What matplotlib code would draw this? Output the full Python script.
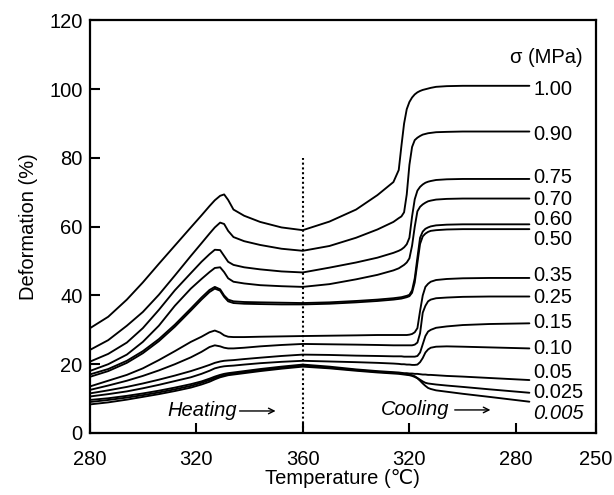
import matplotlib
matplotlib.use("Agg")
import matplotlib.pyplot as plt

plt.rcParams['font.family'] = ['Liberation Sans', 'DejaVu Sans']

# ---------------- data ----------------
stress_labels = ['1.00', '0.90', '0.75', '0.70', '0.60', '0.50', '0.35',
                 '0.25', '0.15', '0.10', '0.05', '0.025', '0.005']
label_y = [100.0, 86.7, 74.3, 68.0, 62.2, 56.4, 45.7, 39.3, 32.2, 24.6,
           17.6, 11.7, 5.7]

# heating branch temperatures (deg C)
heat_T = [280, 287, 294, 300, 306, 312, 318, 322, 325, 327, 329, 330.5,
          332, 334, 338, 344, 352, 360]
# cooling branch temperatures (deg C)
cool_T = [360, 350, 340, 332, 326, 324, 323, 322, 321, 320, 319, 318, 317,
          316, 315, 314, 313, 312, 310, 306, 300, 290, 275]

heat_100 = [30.4, 33.8, 38.8, 43.8, 49.2, 54.5, 59.8, 63.3, 66.0, 67.7, 69.0, 69.4, 67.8, 65.0, 63.2, 61.4, 59.8, 59.0]
heat_090 = [24.1, 27.0, 31.2, 35.2, 40.2, 45.8, 51.5, 55.2, 58.0, 59.8, 61.2, 60.8, 58.8, 57.0, 55.8, 54.7, 53.6, 53.0]
heat_075 = [20.7, 23.0, 26.3, 30.5, 35.8, 41.5, 46.5, 49.8, 52.0, 53.3, 53.2, 51.5, 49.8, 48.9, 48.2, 47.6, 47.0, 46.7]
heat_070 = [18.0, 20.0, 22.8, 26.5, 31.2, 37.0, 42.0, 44.8, 46.8, 48.0, 48.2, 46.8, 45.0, 44.0, 43.5, 43.0, 42.7, 42.5]
heat_060 = [17.0, 18.6, 21.0, 23.8, 27.3, 31.5, 36.2, 39.4, 41.6, 42.5, 41.8, 40.0, 38.8, 38.3, 38.1, 38.0, 37.9, 37.8]
heat_050 = [16.3, 18.0, 20.4, 23.2, 26.7, 30.9, 35.6, 38.8, 41.0, 42.0, 41.4, 39.6, 38.3, 37.8, 37.6, 37.5, 37.4, 37.4]
heat_035 = [13.5, 15.2, 16.9, 18.8, 21.2, 23.8, 26.5, 28.0, 29.3, 29.8, 29.2, 28.4, 28.0, 27.9, 27.9, 28.0, 28.1, 28.2]
heat_025 = [12.5, 13.8, 15.2, 16.6, 18.2, 20.0, 22.0, 23.6, 25.0, 25.5, 25.2, 24.8, 24.6, 24.6, 24.8, 25.2, 25.6, 25.9]
heat_015 = [11.5, 12.4, 13.4, 14.4, 15.5, 16.7, 18.0, 19.0, 19.8, 20.4, 20.8, 21.0, 21.1, 21.2, 21.5, 21.9, 22.4, 22.8]
heat_010 = [10.6, 11.3, 12.1, 13.0, 14.0, 15.1, 16.2, 17.2, 18.1, 18.8, 19.2, 19.4, 19.5, 19.6, 19.9, 20.3, 20.7, 21.0]
heat_005 = [9.6, 10.1, 10.8, 11.5, 12.3, 13.2, 14.2, 15.0, 15.8, 16.4, 16.9, 17.2, 17.4, 17.6, 18.0, 18.6, 19.3, 19.9]
heat_0025 = [9.0, 9.6, 10.3, 11.0, 11.8, 12.7, 13.7, 14.6, 15.4, 16.0, 16.5, 16.8, 17.1, 17.3, 17.7, 18.3, 19.0, 19.6]
heat_0005 = [8.3, 8.9, 9.7, 10.5, 11.3, 12.2, 13.2, 14.1, 14.9, 15.6, 16.2, 16.5, 16.8, 17.0, 17.4, 18.0, 18.7, 19.3]

cool_100 = [59.0, 61.5, 65.0, 69.2, 73.0, 76.5, 83.5, 90.0, 94.2, 96.3, 97.6, 98.5, 99.1, 99.5, 99.8, 100.0, 100.2, 100.4, 100.7, 100.9, 101.0, 101.0, 101.0]
cool_090 = [53.0, 54.4, 56.8, 59.2, 61.4, 62.5, 63.0, 64.2, 69.4, 78.0, 83.2, 85.2, 85.9, 86.4, 86.8, 87.0, 87.2, 87.3, 87.5, 87.6, 87.7, 87.7, 87.7]
cool_075 = [46.7, 48.1, 49.6, 51.0, 52.4, 53.0, 53.4, 54.0, 54.9, 56.8, 63.0, 68.0, 70.5, 71.6, 72.3, 72.8, 73.1, 73.3, 73.6, 73.8, 73.9, 73.9, 73.9]
cool_070 = [42.5, 43.3, 44.7, 46.0, 47.3, 47.9, 48.4, 48.9, 49.6, 50.8, 54.5, 60.0, 64.5, 65.8, 66.5, 67.0, 67.4, 67.6, 67.9, 68.1, 68.2, 68.2, 68.2]
cool_060 = [37.8, 38.0, 38.4, 38.8, 39.2, 39.4, 39.5, 39.7, 39.9, 40.2, 41.5, 45.0, 51.0, 56.8, 58.6, 59.4, 59.8, 60.1, 60.4, 60.6, 60.7, 60.7, 60.7]
cool_050 = [37.4, 37.6, 38.0, 38.4, 38.8, 39.0, 39.1, 39.3, 39.5, 39.8, 40.8, 43.8, 49.5, 55.0, 57.2, 58.0, 58.5, 58.8, 59.0, 59.2, 59.3, 59.3, 59.3]
cool_035 = [28.2, 28.3, 28.4, 28.5, 28.5, 28.5, 28.5, 28.5, 28.5, 28.6, 28.8, 29.3, 30.5, 35.5, 40.0, 42.5, 43.4, 44.0, 44.5, 44.8, 45.0, 45.1, 45.1]
cool_025 = [25.9, 25.8, 25.7, 25.6, 25.5, 25.5, 25.5, 25.5, 25.5, 25.5, 25.5, 25.7, 26.3, 29.0, 35.0, 37.0, 38.3, 38.8, 39.2, 39.4, 39.6, 39.7, 39.7]
cool_015 = [22.8, 22.7, 22.5, 22.4, 22.3, 22.3, 22.3, 22.2, 22.2, 22.2, 22.2, 22.2, 22.4, 23.4, 25.8, 28.2, 29.5, 30.0, 30.6, 31.0, 31.4, 31.7, 31.9]
cool_010 = [21.0, 20.8, 20.6, 20.4, 20.2, 20.1, 20.0, 20.0, 19.9, 19.9, 19.8, 19.8, 19.9, 20.6, 21.8, 23.4, 24.3, 24.8, 25.1, 25.2, 25.1, 24.9, 24.6]
cool_005 = [19.9, 19.3, 18.5, 18.0, 17.7, 17.6, 17.5, 17.4, 17.4, 17.3, 17.3, 17.2, 17.2, 17.1, 17.0, 17.0, 16.9, 16.9, 16.8, 16.6, 16.4, 16.0, 15.4]
cool_0025 = [19.6, 19.0, 18.3, 17.8, 17.5, 17.4, 17.3, 17.2, 17.1, 17.0, 16.8, 16.5, 16.0, 15.5, 15.0, 14.6, 14.4, 14.3, 14.1, 13.8, 13.4, 12.7, 11.7]
cool_0005 = [19.3, 18.8, 18.1, 17.6, 17.3, 17.2, 17.1, 17.0, 16.9, 16.8, 16.6, 16.3, 15.9, 15.2, 14.4, 13.7, 13.1, 12.8, 12.4, 12.0, 11.4, 10.5, 9.1]

heat_curves = [heat_100, heat_090, heat_075, heat_070, heat_060, heat_050,
               heat_035, heat_025, heat_015, heat_010, heat_005, heat_0025,
               heat_0005]
cool_curves = [cool_100, cool_090, cool_075, cool_070, cool_060, cool_050,
               cool_035, cool_025, cool_015, cool_010, cool_005, cool_0025,
               cool_0005]

tick_pos = [280, 320, 360, 400, 440, 470]
tick_labels = ['280', '320', '360', '320', '280', '250']

# ---------------- figure ----------------
fig = plt.figure(figsize=(6.14, 4.95), dpi=100)
ax = fig.add_axes([0.1458, 0.1253, 0.8249, 0.8333])

# unfolded temperature axis: heating runs 280->360, cooling continues 360->250
heat_x = heat_T
cool_x = [720 - t for t in cool_T]

for h, c in zip(heat_curves, cool_curves):
    xs = list(heat_x) + cool_x[1:]
    ys = list(h) + c[1:]
    ax.plot(xs, ys, color='black', lw=1.35, solid_joinstyle='round',
            solid_capstyle='round')

ax.vlines(360, 0, 80, colors='black', linestyles=(0, (1, 1.3)), lw=1.5)

for lab, yy in zip(stress_labels, label_y):
    ax.text(446.4, yy, lab, ha='left', va='center', fontsize=14.5,
            style='italic' if lab == '0.005' else 'normal')
ax.text(437.7, 109.2, 'σ (MPa)', ha='left', va='center', fontsize=14.5)

ax.text(309.2, 6.4, 'Heating', ha='left', va='center', fontsize=14.5,
        style='italic')
ax.annotate('', xy=(349.8, 6.4), xytext=(336.3, 6.4),
            arrowprops=dict(arrowstyle='->', lw=1.0, color='black',
                            shrinkA=0, shrinkB=0))
ax.text(389.2, 6.7, 'Cooling', ha='left', va='center', fontsize=14.5,
        style='italic')
ax.annotate('', xy=(430.4, 6.7), xytext=(417.0, 6.7),
            arrowprops=dict(arrowstyle='->', lw=1.0, color='black',
                            shrinkA=0, shrinkB=0))

ax.set_xlim(280, 470)
ax.set_ylim(0, 120)
ax.set_xticks(tick_pos)
ax.set_xticklabels(tick_labels)
ax.set_yticks([0, 20, 40, 60, 80, 100, 120])
ax.tick_params(direction='in', length=7, width=1.5, labelsize=14.5,
               top=False, right=False)
ax.tick_params(axis='x', pad=12)
ax.tick_params(axis='y', pad=5)
for s in ax.spines.values():
    s.set_linewidth(1.6)

ax.set_xlabel('Temperature (℃)', fontsize=14.5, labelpad=0)
ax.set_ylabel('Deformation (%)', fontsize=14.5, labelpad=8)

fig.savefig('out.png', dpi=100)
